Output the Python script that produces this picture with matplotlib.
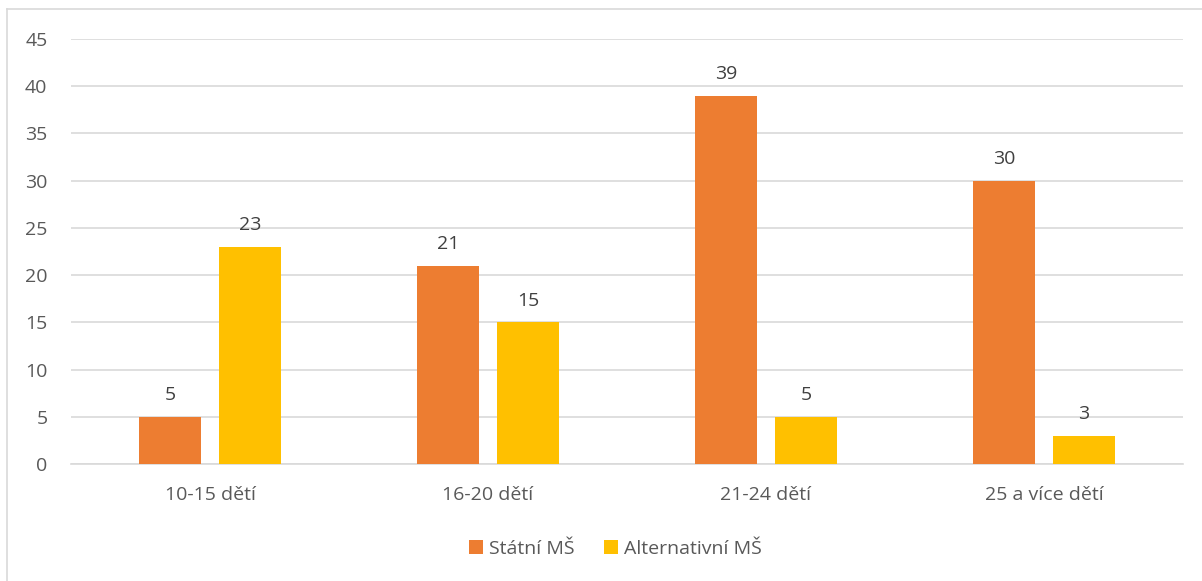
import numpy as np
import matplotlib.pyplot as plt
from matplotlib.lines import Line2D

plt.rcParams['font.family'] = ['Open Sans', 'DejaVu Sans']

categories = ['10-15 dětí', '16-20 dětí', '21-24 dětí', '25 a více dětí']
statni = [5, 21, 39, 30]
alternativni = [23, 15, 5, 3]
series_names = ['Státní MŠ', 'Alternativní MŠ']
colors = ['#ED7D31', '#FFC000']
text_col = '#595959'

fig = plt.figure(figsize=(12.02, 5.81), dpi=100)
ax = fig.add_axes([0.0591, 0.2014, 0.925, 0.7315])

x = np.arange(len(categories))
w = 0.223
off = 0.144
b1 = ax.bar(x - off, statni, w, color=colors[0], label=series_names[0], zorder=3)
b2 = ax.bar(x + off, alternativni, w, color=colors[1], label=series_names[1], zorder=3)

for bars in (b1, b2):
    ax.bar_label(bars, padding=9, fontsize=14, color='#404040')

ax.set_xlim(-0.5, len(categories) - 0.5)
ax.set_ylim(0, 45)
ax.set_yticks(np.arange(0, 46, 5))
ax.yaxis.grid(True, color='#D9D9D9', linewidth=1.2, zorder=0)
ax.set_xticks(x)
ax.set_xticklabels(categories)
ax.tick_params(axis='both', length=0, labelsize=14, labelcolor=text_col)
ax.tick_params(axis='x', pad=16)
ax.tick_params(axis='y', pad=17)
for s in ['top', 'right', 'left']:
    ax.spines[s].set_visible(False)
ax.spines['bottom'].set_color('#D9D9D9')
ax.spines['bottom'].set_linewidth(1.2)

leg = fig.legend(loc='center', bbox_to_anchor=(0.512, 0.055), ncol=2, frameon=False,
                 fontsize=14, handlelength=0.75, handleheight=0.75, handletextpad=0.3,
                 columnspacing=1.5)
for t in leg.get_texts():
    t.set_color(text_col)

# chart border (left and top visible)
fig.add_artist(Line2D([7 / 1202, 7 / 1202], [0, 1 - 9 / 581], transform=fig.transFigure,
                      color='#D9D9D9', linewidth=1.2))
fig.add_artist(Line2D([7 / 1202, 1], [1 - 9 / 581, 1 - 9 / 581], transform=fig.transFigure,
                      color='#D9D9D9', linewidth=1.2))

fig.savefig('out.png', dpi=100)
